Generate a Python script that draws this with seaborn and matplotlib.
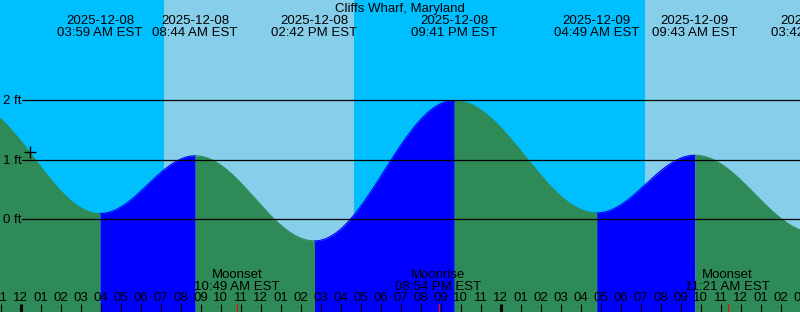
import numpy as np
import pandas as pd
import matplotlib
matplotlib.use("Agg")
import matplotlib.pyplot as plt
import matplotlib.transforms as mtransforms
import seaborn as sns

# ---------------- data ----------------
title = "Cliffs Wharf, Maryland"
# tide extremes, hours from 2025-12-08 00:00 EST (first one is before the chart start)
extreme_hours = [-2.6, 3.983, 8.733, 14.7, 21.683, 28.817, 33.717, 39.7]
extreme_ft = [1.95, 0.10, 1.07, -0.36, 2.00, 0.11, 1.08, -0.22]
# labels for the extremes shown on the chart (all but the first)
extreme_dates = ["2025-12-08", "2025-12-08", "2025-12-08",
                 "2025-12-08", "2025-12-09", "2025-12-09", "2025-12-09"]
extreme_times = ["03:59 AM EST", "08:44 AM EST", "02:42 PM EST",
                 "09:41 PM EST", "04:49 AM EST", "09:43 AM EST", "03:42 PM EST"]
# daylight (sunrise, sunset) hours
day_start = [7.15, 31.2]
day_end = [16.65, 41.0]
# moon events
moon_hours = [10.817, 20.9, 35.35]
moon_names = ["Moonset", "Moonrise", "Moonset"]
moon_times = ["10:49 AM EST", "08:54 PM EST", "11:21 AM EST"]
# y grid levels
level_ft = [0, 1, 2]
level_labels = ["0 ft", "1 ft", "2 ft"]
# current-time marker
marker_hour = 0.45
# hour ticks
tick_hours = list(range(-1, 40))

# ---------------- style ----------------
sns.set_style("white")
plt.rcParams['font.family'] = ['Liberation Sans', 'DejaVu Sans']
FS = 9.5
NIGHT = "#00BFFF"
DAY = "#87CEEB"
FALL = "#2E8B57"
RISE = "#0000FF"

XMIN, XMAX = -1.025, 38.975
YMIN, YMAX = -1.555, 3.689
H = 312.0

fig = plt.figure(figsize=(8, 3.12), dpi=100)
ax = fig.add_axes([0, 0, 1, 1])

# sky
ax.axvspan(XMIN, XMAX, color=NIGHT, zorder=0, lw=0)
for s, e in zip(day_start, day_end):
    ax.axvspan(s, e, color=DAY, zorder=0.1, lw=0, antialiased=False)

# tide curve (cosine between extremes)
rows = []
for i in range(len(extreme_hours) - 1):
    t0, t1 = extreme_hours[i], extreme_hours[i + 1]
    h0, h1 = extreme_ft[i], extreme_ft[i + 1]
    tt = np.linspace(t0, t1, 300)
    hh = h0 + (h1 - h0) * (1 - np.cos(np.pi * (tt - t0) / (t1 - t0))) / 2
    phase = "rising" if h1 > h0 else "falling"
    col = RISE if phase == "rising" else FALL
    ax.fill_between(tt, YMIN, hh, color=col, lw=0, zorder=1, antialiased=False)
    for a, b in zip(tt, hh):
        rows.append((a, b, phase, i))
df = pd.DataFrame(rows, columns=["hour", "ft", "phase", "seg"])
sns.lineplot(data=df, x="hour", y="ft", hue="phase", units="seg", estimator=None,
             palette={"rising": RISE, "falling": FALL}, lw=0.8, legend=False,
             ax=ax, zorder=1.2, sort=False)
ax.set_xlim(XMIN, XMAX)
ax.set_ylim(YMIN, YMAX)
ax.set_axis_off()

tr_ay = mtransforms.blended_transform_factory(ax.transAxes, ax.transData)
trx = mtransforms.blended_transform_factory(ax.transData, ax.transAxes)
DY = 2.0 / 312 * (YMAX - YMIN)  # 2 px downward shift in data units

# grid levels
for lv, lab in zip(level_ft, level_labels):
    ax.axhline(lv, xmin=22 / 800, xmax=1, color="black", lw=0.9, zorder=2)
    ax.text(3 / 800, lv - 0.3 * DY, lab, transform=tr_ay,
            ha="left", va="center", fontsize=FS, color="black", zorder=3)

# marker
cur = df[(df.hour >= marker_hour)].iloc[0]
ax.plot([marker_hour], [cur.ft], marker="+", color="black", ms=9, mew=1.0, zorder=3)

# title
ax.text(0.5, 1 - 9 / H, title, transform=ax.transAxes, ha="center", va="center",
        fontsize=FS, color="black")

# extreme labels
for t, d, s in zip(extreme_hours[1:], extreme_dates, extreme_times):
    ax.text(t, 1 - 21 / H, d, transform=trx, ha="center", va="center", fontsize=FS, color="black")
    ax.text(t, 1 - 33 / H, s, transform=trx, ha="center", va="center", fontsize=FS, color="black")

# moon labels
for t, n, s in zip(moon_hours, moon_names, moon_times):
    ax.text(t, 1 - 274.5 / H, n, transform=trx, ha="center", va="center", fontsize=FS, color="black")
    ax.text(t, 1 - 286.5 / H, s, transform=trx, ha="center", va="center", fontsize=FS, color="black")
    ax.plot([t, t], [0, 8 / H], transform=trx, color="red", lw=0.8, zorder=3)

# hour ticks
for h in tick_hours:
    hr = h % 24
    lab = "%02d" % (12 if hr % 12 == 0 else hr % 12)
    ax.text(h, 14 / H, lab, transform=trx, ha="center", va="center", fontsize=FS, color="black")
    lw = 2.2 if hr == 0 else 0.8
    ax.plot([h, h], [0, 8 / H], transform=trx, color="black", lw=lw, zorder=3,
            solid_capstyle="butt")

fig.savefig("out.png", dpi=100)
